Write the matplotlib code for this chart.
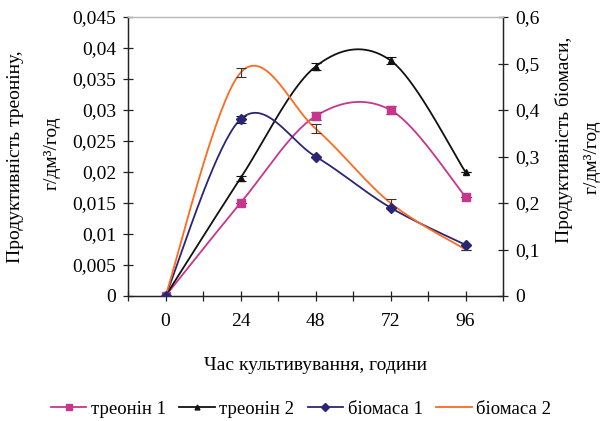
import numpy as np
import matplotlib
matplotlib.use('Agg')
import matplotlib.pyplot as plt
from matplotlib.lines import Line2D

# ---- data ----
hours = [0, 24, 48, 72, 96]
threonine1 = [0, 0.015, 0.029, 0.030, 0.016]
threonine2 = [0, 0.019, 0.037, 0.038, 0.020]
biomass1 = [0, 0.38, 0.30, 0.19, 0.11]
biomass2 = [0, 0.48, 0.36, 0.20, 0.10]
threonine1_err = [0, 0, 0.0006, 0.0006, 0]
threonine2_err = [0, 0.0004, 0.0006, 0.0006, 0]
biomass1_err = [0, 0.008, 0, 0, 0]
biomass2_err = [0, 0.010, 0.010, 0.008, 0]
left_ticks = [0, 0.005, 0.01, 0.015, 0.02, 0.025, 0.03, 0.035, 0.04, 0.045]
right_ticks = [0, 0.1, 0.2, 0.3, 0.4, 0.5, 0.6]
x_labels = ['0', '24', '48', '72', '96']
series_names = ['треонін 1', 'треонін 2', 'біомаса 1', 'біомаса 2']

plt.rcParams['font.family'] = ['Liberation Serif', 'DejaVu Serif']
plt.rcParams['font.size'] = 14


def smooth(x, y, n=40):
    """Excel-like smoothed line (uniform Catmull-Rom / Bezier)."""
    x = np.asarray(x, float)
    y = np.asarray(y, float)
    P = np.column_stack([x, y])
    P = np.vstack([P[0], P, P[-1]])
    out = []
    t = np.linspace(0, 1, n)
    for i in range(1, len(P) - 2):
        p0, p1, p2, p3 = P[i - 1], P[i], P[i + 1], P[i + 2]
        c1 = p1 + (p2 - p0) / 6.0
        c2 = p2 - (p3 - p1) / 6.0
        seg = ((1 - t) ** 3)[:, None] * p1 + (3 * (1 - t) ** 2 * t)[:, None] * c1 \
            + (3 * (1 - t) * t ** 2)[:, None] * c2 + (t ** 3)[:, None] * p2
        out.append(seg if i == 1 else seg[1:])
    s = np.vstack(out)
    return s[:, 0], s[:, 1]


fig = plt.figure(figsize=(6.01, 4.21), dpi=100)
ax = fig.add_axes([128 / 601, 1 - 296 / 421, 375 / 601, 279 / 421])
ax2 = ax.twinx()

c_t1 = '#C8358C'
c_t2 = '#111111'
c_b1 = '#2B2575'
c_b2 = '#FF6A1E'

# threonine on left axis
for y, err, c, m, ms in [(threonine1, threonine1_err, c_t1, 's', 6),
                         (threonine2, threonine2_err, c_t2, '^', 4)]:
    sx, sy = smooth(hours, y)
    ax.plot(sx, sy, color=c, lw=1.3, zorder=3)
    ax.errorbar(hours, y, yerr=err, fmt=m, color=c, ms=ms, ecolor=c_t2,
                elinewidth=0.8, capsize=3.5, capthick=0.8, zorder=4)

# biomass on right axis
sx, sy = smooth(hours, biomass1)
ax2.plot(sx, sy, color=c_b1, lw=1.3, zorder=3)
ax2.errorbar(hours, biomass1, yerr=biomass1_err, fmt='D', color=c_b1, ms=5.5,
             ecolor=c_t2, elinewidth=0.8, capsize=3.5, capthick=0.8, zorder=4)
sx, sy = smooth(hours, biomass2)
ax2.plot(sx, sy, color=c_b2, lw=1.3, zorder=3)
ax2.errorbar(hours, biomass2, yerr=biomass2_err, fmt='none', ecolor='#333333',
             elinewidth=0.8, capsize=3.5, capthick=0.8, zorder=4)

ax.set_xlim(-12, 108)
xt = np.arange(-12, 109, 12)
ax.set_xticks(xt)
lab = {h: l for h, l in zip(hours, x_labels)}
ax.set_xticklabels([lab.get(int(v), '') for v in xt])
ax.set_ylim(0, 0.045)
ax.set_yticks(left_ticks)
ax.set_yticklabels(['0' if v == 0 else f'{v:g}'.replace('.', ',') for v in left_ticks])
ax2.set_ylim(0, 0.6)
ax2.set_yticks(right_ticks)
ax2.set_yticklabels(['0' if v == 0 else f'{v:g}'.replace('.', ',') for v in right_ticks])

for a in (ax, ax2):
    a.tick_params(direction='inout', length=7, width=0.9, color='#222222', labelsize=14, pad=5)
    for s in a.spines.values():
        s.set_linewidth(0.9)
    a.spines['top'].set_color('#BBBBBB')
    a.spines['left'].set_color('#222222')
    a.spines['right'].set_color('#222222')
    a.spines['bottom'].set_color('#222222')
ax.tick_params(axis='x', pad=9)

fig.text(16 / 601, 1 - 157 / 421, 'Продуктивність треоніну,', rotation=90,
         ha='center', va='center', fontsize=14)
fig.text(52 / 601, 1 - 153 / 421, 'г/дм³/год', rotation=90,
         ha='center', va='center', fontsize=14)
fig.text(564 / 601, 1 - 140 / 421, 'Продуктивність біомаси,', rotation=90,
         ha='center', va='center', fontsize=14)
fig.text(592 / 601, 1 - 157 / 421, 'г/дм³/год', rotation=90,
         ha='center', va='center', fontsize=14)
fig.text(316 / 601, 1 - 365 / 421, 'Час культивування, години', ha='center', va='center',
         fontsize=14)

handles = [
    Line2D([], [], color=c_t1, marker='s', ms=5, lw=1.3),
    Line2D([], [], color=c_t2, marker='^', ms=3.5, lw=1.3),
    Line2D([], [], color=c_b1, marker='D', ms=4.5, lw=1.3),
    Line2D([], [], color=c_b2, lw=1.3),
]
fig.legend(handles, series_names, loc='center', bbox_to_anchor=(301 / 601, 1 - 409 / 421),
           ncol=4, frameon=False, fontsize=13.5, handlelength=1.9, handletextpad=0.25,
           columnspacing=0.7, borderpad=0, borderaxespad=0)

fig.savefig('out.png', dpi=100)
